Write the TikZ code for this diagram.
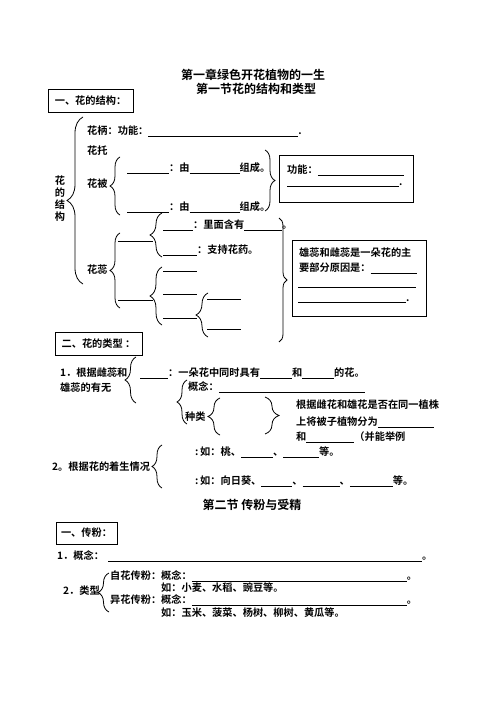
\documentclass[tikz,border=0pt]{standalone}
\usepackage{fontspec}
\setmainfont{Noto Sans CJK SC}[BoldFont=* Bold]
\usetikzlibrary{decorations.pathreplacing}
\newcommand{\blank}[1]{\rule[-1.5pt]{#1pt}{0.5pt}}
\tikzset{
  txt/.style={anchor=west, inner sep=0pt, font=\bfseries\fontsize{10.2}{12}\selectfont},
  ttl/.style={inner sep=0pt, font=\bfseries\fontsize{12}{14}\selectfont},
  headbox/.style={draw, line width=0.9pt, inner sep=0pt, font=\bfseries\fontsize{10.2}{12}\selectfont},
  infobox/.style={draw, line width=0.9pt, inner sep=0pt},
  brc/.style={decorate, decoration={brace, amplitude=#1}, line width=0.8pt},
}
\begin{document}
\begin{tikzpicture}[x=1pt, y=-1pt]
  \useasboundingbox (0,0) rectangle (502,708);

  \node[ttl] (chapter) at (253,75) {第一章绿色开花植物的一生};
  \node[ttl] (section1) at (256,89) {第一节花的结构和类型};

  \node[headbox, minimum width=85pt, minimum height=23pt] (structbox) at (90.5,100.5) {一、花的结构：};
  \node[txt, anchor=center, align=center] (flower) at (60,199) {花\\的\\结\\构};
  \draw[brc=16] (83,284) -- (83,117);

  \node[txt] (pedicel) at (87,131) {花柄：功能：\blank{150}.};
  \node[txt] (receptacle) at (87,151) {花托};
  \node[txt] (perianth) at (87,184) {花被};
  \draw[brc=10] (120,215) -- (120,157);
  \node[txt] (calyx) at (127,168) {\blank{42}：由\blank{50}组成。};
  \node[txt] (corolla) at (127,207) {\blank{42}：由\blank{50}组成。};
  \draw[brc=10] (265,150) -- (265,211);

  \node[infobox, minimum width=134pt, minimum height=47pt] (perianthbox) at (346,178.5) {};
  \node[txt] (perianthfn) at (287,170) {功能：\blank{86}};
  \node[txt] (perianthfn2) at (287,185) {\blank{112}.};

  \node[txt] (pistilstamen) at (87,270) {花蕊};
  \draw[brc=10] (120,308) -- (120,233);
  \node[txt] (stamen) at (118,241) {\blank{35}};
  \draw[brc=12] (162,257) -- (162,213);
  \node[txt] (anther) at (163,225) {\blank{30}：里面含有\blank{38}。};
  \node[txt] (filament) at (163,250) {\blank{34}：支持花药。};

  \node[txt] (pistil) at (118,300) {\blank{35}};
  \draw[brc=12] (162,325) -- (162,267);
  \node[txt] (stigma) at (163,271) {\blank{34}};
  \node[txt] (style) at (163,294) {\blank{34}};
  \node[txt] (ovary) at (163,318) {\blank{34}};
  \draw[brc=12] (208,337) -- (208,293);
  \node[txt] (ovarywall) at (207,299) {\blank{34}};
  \node[txt] (ovule) at (207,329) {\blank{34}};

  \draw[brc=8] (279,218) -- (279,342);
  \node[infobox, minimum width=134pt, minimum height=76pt] (mainbox) at (359,278) {};
  \node[txt] (main1) at (299,253) {雄蕊和雌蕊是一朵花的主};
  \node[txt] (main2) at (299,268) {要部分原因是：\blank{46}};
  \node[txt] (main3) at (298,287) {\blank{118}};
  \node[txt] (main4) at (298,301) {\blank{108}.};

  \node[headbox, minimum width=87pt, minimum height=23pt] (typebox) at (98.5,343.5) {二、花的类型 ：};
  \node[txt] (bypistil) at (60,373) {1．根据雌蕊和};
  \node[txt] (bypistil2) at (60,388) {雄蕊的有无};
  \draw[brc=11] (136,403) -- (136,357);
  \node[txt] (bisexual) at (140,373) {\blank{28}：一朵花中同时具有\blank{32}和\blank{32}的花。};
  \draw[brc=10] (187,424) -- (187,380);
  \node[txt] (unisexual) at (188,387) {概念：\blank{146}};
  \node[txt] (kinds) at (185,417) {种类};
  \draw[brc=12] (220,435) -- (220,398);
  \draw[brc=14] (265,397) -- (265,434);
  \node[txt] (monoecy) at (296,405) {根据雌花和雄花是否在同一植株};
  \node[txt] (monoecy2) at (296,422) {上将被子植物分为\blank{56}};
  \node[txt] (monoecy3) at (296,437) {和\blank{48}（并能举例};

  \node[txt] (byarrange) at (52,467) {2。根据花的着生情况};
  \draw[brc=10] (162,488) -- (162,445);
  \node[txt] (single) at (195,452) {:\,如：桃、\blank{32}、\blank{36}等。};
  \node[txt] (inflor) at (195,481) {:\,如：向日葵、\blank{31}、\blank{37}、\blank{43}等。};

  \node[ttl] (section2) at (252,505) {第二节 传粉与受精};
  \node[headbox, minimum width=61pt, minimum height=22pt] (pollbox) at (86.5,533) {一、传粉：};
  \node[txt] (pollconcept) at (57,556) {1．概念：\hspace{4pt}\blank{314}。};
  \node[txt] (polltype) at (63,591) {2．类型};
  \draw[brc=11] (109,612) -- (109,573);
  \node[txt] (selfpoll) at (110,576) {自花传粉：概念：\blank{215}。};
  \node[txt] (selfex) at (161,588) {如：小麦、水稻、豌豆等。};
  \node[txt] (crosspoll) at (110,600) {异花传粉：概念：\blank{215}。};
  \node[txt] (crossex) at (161,613) {如：玉米、菠菜、杨树、柳树、黄瓜等。};
\end{tikzpicture}
\end{document}
